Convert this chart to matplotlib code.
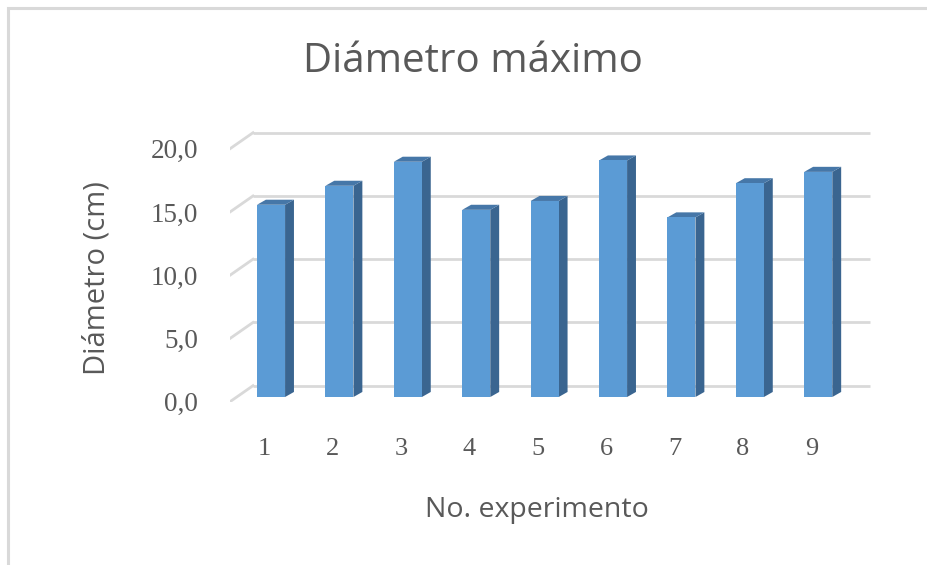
import matplotlib
matplotlib.use("Agg")
import matplotlib.pyplot as plt
from matplotlib.patches import Rectangle

# experiment numbers and maximum diameter (cm)
experiments = [1, 2, 3, 4, 5, 6, 7, 8, 9]
diameters = [15.2, 16.7, 18.6, 14.8, 15.5, 18.7, 14.2, 16.9, 17.8]
y_ticks = [0, 5, 10, 15, 20]
y_tick_labels = ["0,0", "5,0", "10,0", "15,0", "20,0"]

TEXT = "#595959"
GRID = "#d9d9d9"
FRONT = "#5b9bd5"
SIDE = "#3a6590"
TOP = "#4677a8"

# fake 3d: depth offsets in data units
wall_dx, wall_dy = 0.336, 1.265
bar_dx, bar_dy = 0.10, 0.37
depth_dx, depth_dy = 0.13, 0.40
bar_w = 0.41

fig = plt.figure(figsize=(9.27, 5.65), dpi=100)
fig.patches.append(Rectangle((8 / 927, -0.1), 1.2, 1.1 - 8 / 565,
                             transform=fig.transFigure, fill=False,
                             edgecolor=GRID, linewidth=2.2))

ax = fig.add_axes([230 / 927, 163.3 / 565, 646.4 / 927, 273.2 / 565])
ax.set_xlim(0.5, 9.95)
ax.set_ylim(0, 21.6)
for s in ax.spines.values():
    s.set_visible(False)

# back wall gridlines + left wall diagonals
for v in y_ticks:
    ax.plot([0.5 + wall_dx, 9.86], [v + wall_dy] * 2, color=GRID, lw=2, zorder=1,
            solid_capstyle="butt")
    ax.plot([0.5, 0.5 + wall_dx], [v, v + wall_dy], color=GRID, lw=2, zorder=1)

# bars: side, top, then front face
for x, h in zip(experiments, diameters):
    xl = x + bar_dx - bar_w / 2
    xr = x + bar_dx + bar_w / 2
    yt = bar_dy + h
    ax.fill([xr, xr + depth_dx, xr + depth_dx, xr],
            [bar_dy, bar_dy + depth_dy, yt + depth_dy, yt],
            color=SIDE, lw=0, zorder=2)
    ax.fill([xl, xl + depth_dx, xr + depth_dx, xr],
            [yt, yt + depth_dy, yt + depth_dy, yt],
            color=TOP, lw=0, zorder=2)
ax.bar([x + bar_dx for x in experiments], diameters, width=bar_w, bottom=bar_dy,
       color=FRONT, linewidth=0, zorder=3)

ax.set_xticks(experiments, [str(e) for e in experiments])
ax.set_yticks(y_ticks, y_tick_labels)
ax.tick_params(axis="x", length=0, pad=26, labelsize=19, labelcolor=TEXT)
ax.tick_params(axis="y", length=0, pad=23, labelsize=19.5, labelcolor=TEXT)
for lab in ax.get_xticklabels() + ax.get_yticklabels():
    lab.set_family("Liberation Serif")

fig.text(473 / 927, 1 - 62 / 565, "Diámetro máximo", ha="center", va="center",
         fontsize=29, color=TEXT, family="Open Sans")
fig.text(537 / 927, 1 - 510 / 565, "No. experimento", ha="center", va="center",
         fontsize=20.5, color=TEXT, family="Open Sans")
fig.text(97 / 927, 1 - 278 / 565, "Diámetro (cm)", ha="center", va="center",
         rotation=90, fontsize=21, color=TEXT, family="Open Sans")

fig.savefig("out.png", dpi=100)
